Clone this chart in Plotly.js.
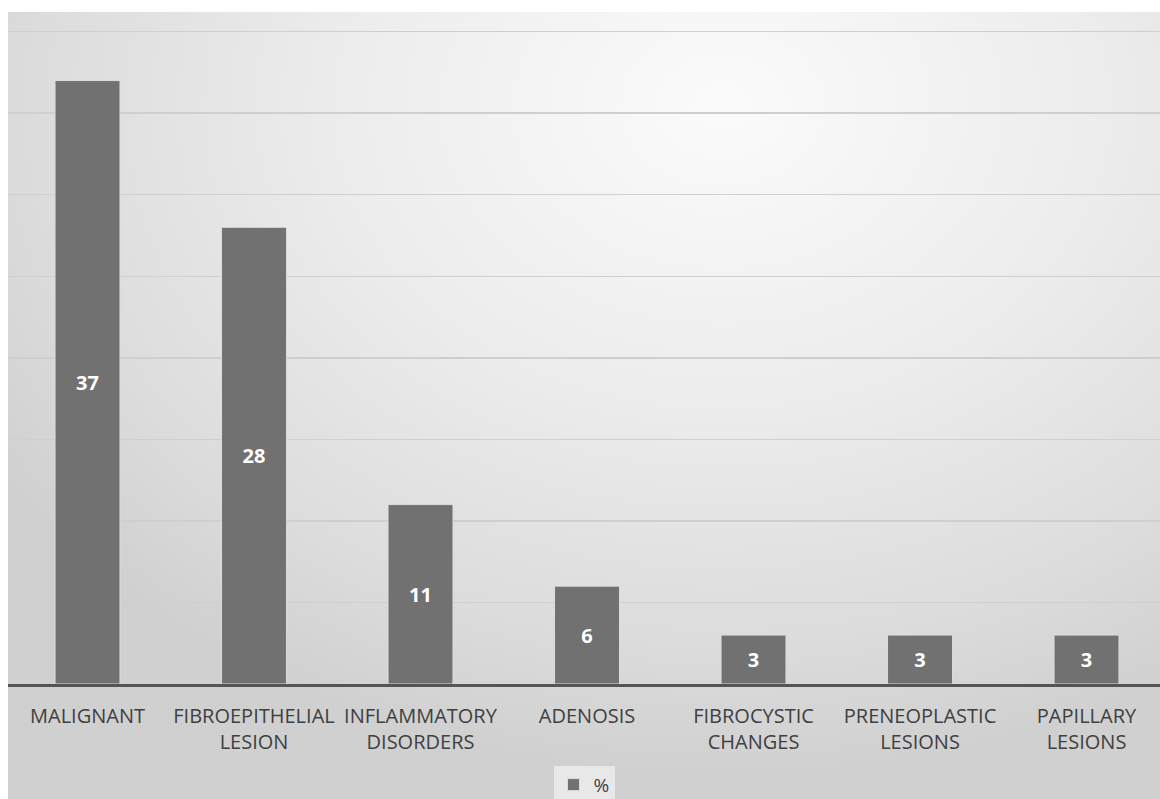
<!DOCTYPE html>
<html>
<head>
<meta charset="utf-8">
<script src="https://cdn.plot.ly/plotly-3.0.1.min.js"></script>
<style>
  html, body { margin: 0; padding: 0; background: #ffffff; width: 1160px; height: 799px; overflow: hidden; }
  #bg { position: absolute; left: 8px; top: 12px; width: 1152px; height: 787px;
        background: radial-gradient(ellipse 75% 85% at 62% 12%, #fbfbfb 0%, #ececec 45%, #dcdcdc 80%, #d0d0d0 100%); }
  #chart { position: absolute; left: 0; top: 0; width: 1160px; height: 799px; }
</style>
</head>
<body>
<div id="bg"></div>
<div id="chart"></div>
<script>
const categories = [
  "MALIGNANT",
  "FIBROEPITHELIAL<br>LESION",
  "INFLAMMATORY<br>DISORDERS",
  "ADENOSIS",
  "FIBROCYSTIC<br>CHANGES",
  "PRENEOPLASTIC<br>LESIONS",
  "PAPILLARY<br>LESIONS"
];
const percentValues = [37, 28, 11, 6, 3, 3, 3];
const seriesName = "%";

const trace = {
  type: "bar",
  x: categories,
  y: percentValues,
  name: seriesName,
  width: 0.39,
  marker: { color: "#717171", line: { color: "#dcdcdc", width: 1 } },
  text: percentValues.map(String),
  textposition: "inside",
  insidetextanchor: "middle",
  textangle: 0,
  textfont: { family: "Open Sans", size: 20, color: "#ffffff", weight: "bold" },
  hoverinfo: "skip",
  showlegend: true
};

const layout = {
  width: 1160,
  height: 799,
  margin: { l: 8, r: 0, t: 30, b: 115, autoexpand: false },
  paper_bgcolor: "rgba(0,0,0,0)",
  plot_bgcolor: "rgba(0,0,0,0)",
  font: { family: "Open Sans", color: "#404040" },
  xaxis: {
    type: "category",
    range: [-0.4775, 6.4414],
    showgrid: false,
    showline: true,
    linecolor: "#555555",
    linewidth: 2.5,
    ticks: "",
    tickfont: { family: "Open Sans", size: 20, color: "#404040" },
    ticklabelstandoff: 12,
    automargin: false,
    fixedrange: true
  },
  yaxis: {
    range: [0, 40.1],
    dtick: 5,
    showgrid: true,
    gridcolor: "#cfcfcf",
    gridwidth: 1.5,
    zeroline: false,
    showticklabels: false,
    ticks: "",
    automargin: false,
    fixedrange: true
  },
  showlegend: true,
  legend: {
    orientation: "h",
    x: 0.5,
    xanchor: "center",
    y: -0.125,
    yanchor: "top",
    bgcolor: "#e8e8e8",
    font: { family: "Open Sans", size: 19, color: "#404040" },
    itemwidth: 30
  }
};

Plotly.newPlot("chart", [trace], layout, { displayModeBar: false, staticPlot: true });
</script>
</body>
</html>
